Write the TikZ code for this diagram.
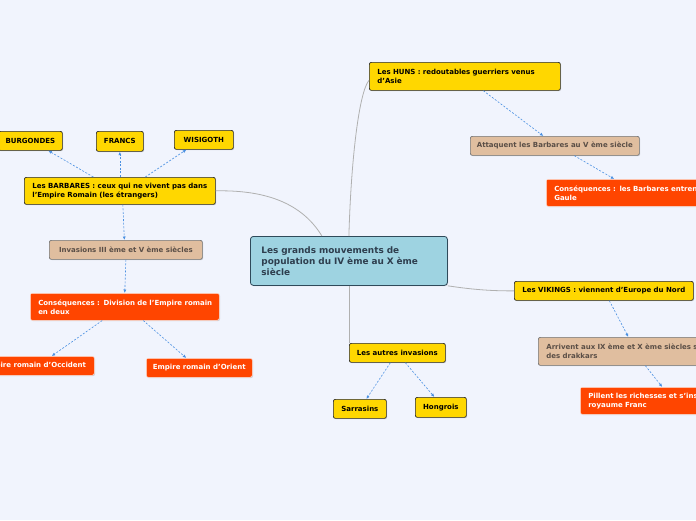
\documentclass[tikz,border=0pt]{standalone}
\usepackage{fontspec}
\setmainfont{DejaVu Sans}
\usetikzlibrary{arrows.meta,shadows}
\definecolor{bgc}{HTML}{F1F4FD}
\definecolor{yel}{HTML}{FFD700}
\definecolor{tan}{HTML}{E0BE9F}
\definecolor{tantext}{HTML}{5A4E46}
\definecolor{ora}{HTML}{FF4500}
\definecolor{cen}{HTML}{9ED3E1}
\definecolor{cenb}{HTML}{2F4A5A}
\definecolor{centext}{HTML}{2E3E4E}
\definecolor{arrc}{HTML}{4A90E2}
\definecolor{linec}{HTML}{B0B0B0}
\tikzset{
  basebox/.style={anchor=north west, rounded corners=2pt, inner sep=0pt,
    font=\fontsize{7}{9}\selectfont\bfseries,
    drop shadow={shadow xshift=0.8pt, shadow yshift=-0.8pt, opacity=0.3}},
  yelbox/.style={basebox, fill=yel, draw=black!85, line width=0.7pt, text=black},
  tanbox/.style={basebox, fill=tan, draw=black!55, line width=0.7pt, text=tantext},
  orabox/.style={basebox, fill=ora, draw=white!85!ora, line width=0.5pt, text=white},
  cenbox/.style={basebox, fill=cen, draw=cenb, line width=0.8pt, text=centext,
    font=\fontsize{8.9}{11}\selectfont\bfseries, rounded corners=3pt},
  arr/.style={draw=arrc, line width=0.6pt, dash pattern=on 2pt off 1.6pt,
    -{Latex[length=3.5pt,width=3pt]}},
  link/.style={draw=linec, line width=0.8pt}
}
\begin{document}
\begin{tikzpicture}[x=1pt,y=-1pt]
\useasboundingbox (0,0) rectangle (696,520);
\fill[bgc] (0,0) rectangle (696,520);
\clip (0,0) rectangle (696,520);

% central
\node[cenbox, minimum width=197pt, minimum height=49pt, text width=175pt, align=left] (central) at (250,236)
  {\mbox{Les grands mouvements de}\\\mbox{population du IV ème au X ème}\\siècle};

% HUNS branch
\node[yelbox, minimum width=191pt, minimum height=28pt, text width=175pt, align=left] (huns) at (369,62)
  {\mbox{Les HUNS : redoutables guerriers venus}\\d'Asie};
\node[tanbox, minimum width=169pt, minimum height=19pt] (attaq) at (470,136)
  {Attaquent les Barbares au V ème siècle};
\node[orabox, minimum width=195pt, minimum height=27pt, text width=179pt, align=left] (consb) at (546,179)
  {\mbox{Conséquences : les Barbares entrent en}\\Gaule};

% BARBARES branch
\node[yelbox, minimum width=191pt, minimum height=27pt, text width=175pt, align=left] (barb) at (24,177)
  {\mbox{Les BARBARES : ceux qui ne vivent pas dans}\\\mbox{l'Empire Romain (les étrangers)}};
\node[yelbox, minimum width=64pt, minimum height=19pt] (burg) at (-2,131) {BURGONDES};
\node[yelbox, minimum width=47pt, minimum height=20pt] (francs) at (96,131) {FRANCS};
\node[yelbox, minimum width=59pt, minimum height=19pt] (wisi) at (174,130) {WISIGOTH};
\node[tanbox, minimum width=153pt, minimum height=19pt] (inv) at (49,240)
  {Invasions III ème et V ème siècles};
\node[orabox, minimum width=189pt, minimum height=27pt, text width=173pt, align=left] (consd) at (30,293)
  {\mbox{Conséquences : Division de l'Empire romain}\\en deux};
\node[orabox, minimum width=119pt, minimum height=19pt] (occ) at (-25,356) {Empire romain d'Occident};
\node[orabox, minimum width=106pt, minimum height=19pt] (orient) at (146,358) {Empire romain d'Orient};

% VIKINGS branch
\node[yelbox, minimum width=179pt, minimum height=19pt] (vik) at (514,281)
  {Les VIKINGS : viennent d'Europe du Nord};
\node[tanbox, minimum width=200pt, minimum height=28pt, text width=184pt, align=left] (arriv) at (538,337)
  {\mbox{Arrivent aux IX ème et X ème siècles sur}\\des drakkars};
\node[orabox, minimum width=200pt, minimum height=27pt, text width=184pt, align=left] (pill) at (580,387)
  {\mbox{Pillent les richesses et s'installent dans le}\\royaume Franc};

% autres invasions
\node[yelbox, minimum width=96pt, minimum height=19pt] (autres) at (349,343) {Les autres invasions};
\node[yelbox, minimum width=53pt, minimum height=19pt] (sarr) at (333,399) {Sarrasins};
\node[yelbox, minimum width=51pt, minimum height=20pt] (hong) at (415,397) {Hongrois};

% gray links from the central node
\draw[link] (central.north) .. controls (351,160) and (359,92) .. ([yshift=-4pt]huns.west);
\draw[link] ([xshift=-27pt]central.north) .. controls (300,200) and (260,190) .. (barb.east);
\draw[link] (central.south east) .. controls (475,290) and (495,291) .. (vik.west);
\draw[link] (central.south) -- (central.south |- autres.north);

% dashed arrows
\draw[arr] ([xshift=18.5pt]huns.south) -- ([xshift=-11.5pt]attaq.north);
\draw[arr] ([xshift=19.5pt]attaq.south) -- ([xshift=-29.5pt]consb.north);
\draw[arr] ([xshift=-26.5pt]barb.north) -- ([xshift=18pt]burg.south);
\draw[arr] (barb.north) -- (francs.south);
\draw[arr] ([xshift=25.5pt]barb.north) -- ([xshift=-17.5pt]wisi.south);
\draw[arr] ([xshift=3pt]barb.south) -- ([xshift=-1.5pt]inv.north);
\draw[arr] (inv.south) -- (consd.north);
\draw[arr] ([xshift=-22.5pt]consd.south) -- ([xshift=17pt]occ.north);
\draw[arr] ([xshift=18.5pt]consd.south) -- ([xshift=-13pt]orient.north);
\draw[arr] ([xshift=5.5pt]vik.south) -- ([xshift=-10pt]arriv.north);
\draw[arr] ([xshift=7pt]arriv.south) -- ([xshift=-18pt]pill.north);
\draw[arr] ([xshift=-7pt]autres.south) -- ([xshift=6.5pt]sarr.north);
\draw[arr] ([xshift=8pt]autres.south) -- ([xshift=-6.5pt]hong.north);
\end{tikzpicture}
\end{document}
